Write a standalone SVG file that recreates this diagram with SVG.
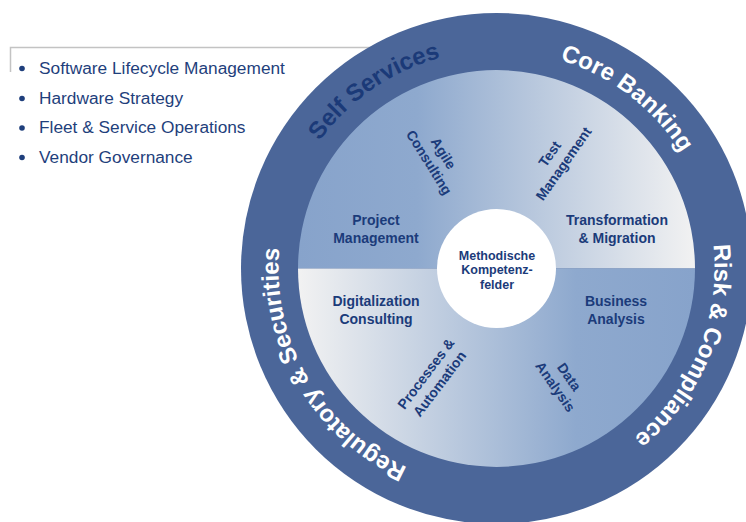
<svg xmlns="http://www.w3.org/2000/svg" width="746" height="522" viewBox="0 0 746 522">
<style>
.list{font-family:"Liberation Sans",Arial,sans-serif;font-size:17.3px;fill:#1f3f7c}
.ring{font-family:"Liberation Sans",Arial,sans-serif;font-size:24px;font-weight:bold;fill:#ffffff}
.lbl{font-family:"Liberation Sans",Arial,sans-serif;font-size:14px;font-weight:bold;fill:#1b3b7a;text-anchor:middle}
.ctr{font-family:"Liberation Sans",Arial,sans-serif;font-size:12.5px;font-weight:bold;fill:#1b3b7a;text-anchor:middle}
.dot{fill:#1f3f7c}
</style>
<defs>
<linearGradient id="gUp" x1="298" y1="0" x2="695" y2="0" gradientUnits="userSpaceOnUse">
<stop offset="0" stop-color="#87a3cb"/>
<stop offset="0.3" stop-color="#8ea9ce"/>
<stop offset="1" stop-color="#f2f2f2"/>
</linearGradient>
<linearGradient id="gDn" x1="298" y1="0" x2="695" y2="0" gradientUnits="userSpaceOnUse">
<stop offset="0" stop-color="#f2f2f2"/>
<stop offset="0.7" stop-color="#8ea9ce"/>
<stop offset="1" stop-color="#87a3cb"/>
</linearGradient>
<path id="ringPath" d="M 496.5 486.5 A 218 218 0 1 1 496.5 50.5 A 218 218 0 1 1 496.5 486.5"/>
</defs>
<g id="bullet-list">
<path d="M10.5 72 V47.5 H380" fill="none" stroke="#c3c3c3" stroke-width="1.5"/>
<circle class="dot" cx="22" cy="68.5" r="2.8"/>
<circle class="dot" cx="22" cy="98.5" r="2.8"/>
<circle class="dot" cx="22" cy="128" r="2.8"/>
<circle class="dot" cx="22" cy="157.5" r="2.8"/>
<text class="list" x="39" y="73.5">Software Lifecycle Management</text>
<text class="list" x="39" y="103.5">Hardware Strategy</text>
<text class="list" x="39" y="133">Fleet &amp; Service Operations</text>
<text class="list" x="39" y="162.5">Vendor Governance</text>
</g>
<g id="outer-ring">
<circle cx="496.5" cy="268.5" r="255.5" fill="#4b6699"/>
<text class="ring" style="fill:#1b3a78"><textPath href="#ringPath" startOffset="40.4%" text-anchor="middle">Self Services</textPath></text>
<text class="ring"><textPath href="#ringPath" startOffset="60.4%" text-anchor="middle">Core Banking</textPath></text>
<text class="ring"><textPath href="#ringPath" startOffset="81.2%" text-anchor="middle">Risk &amp; Compliance</textPath></text>
<text class="ring"><textPath href="#ringPath" startOffset="16.6%" text-anchor="middle">Regulatory &amp; Securities</textPath></text>
</g>
<g id="inner-disc">
<path d="M 298 268.5 A 198.5 198.5 0 0 1 695 268.5 Z" fill="url(#gUp)"/>
<path d="M 298 268.5 A 198.5 198.5 0 0 0 695 268.5 Z" fill="url(#gDn)"/>
</g>
<g id="project-management"><text class="lbl"><tspan x="376" y="225">Project</tspan><tspan x="376" y="243">Management</tspan></text></g>
<g id="agile-consulting"><text class="lbl" transform="translate(436,158) rotate(58)"><tspan x="0" y="-4">Agile</tspan><tspan x="0" y="13">Consulting</tspan></text></g>
<g id="test-management"><text class="lbl" transform="translate(557,159) rotate(-55)"><tspan x="0" y="-4">Test</tspan><tspan x="0" y="13">Management</tspan></text></g>
<g id="transformation-migration"><text class="lbl"><tspan x="617" y="225">Transformation</tspan><tspan x="617" y="243">&amp; Migration</tspan></text></g>
<g id="digitalization-consulting"><text class="lbl"><tspan x="376" y="306">Digitalization</tspan><tspan x="376" y="324">Consulting</tspan></text></g>
<g id="business-analysis"><text class="lbl"><tspan x="616" y="306">Business</tspan><tspan x="616" y="324">Analysis</tspan></text></g>
<g id="processes-automation"><text class="lbl" transform="translate(433,379) rotate(-53)"><tspan x="0" y="-4">Processes &amp;</tspan><tspan x="0" y="13">Automation</tspan></text></g>
<g id="data-analysis"><text class="lbl" transform="translate(562,382) rotate(55)"><tspan x="0" y="-4">Data</tspan><tspan x="0" y="13">Analysis</tspan></text></g>
<g id="center">
<circle cx="496.5" cy="268.5" r="59.5" fill="#ffffff"/>
<text class="ctr"><tspan x="497" y="259.5">Methodische</tspan><tspan x="497" y="274">Kompetenz-</tspan><tspan x="497" y="288.5">felder</tspan></text>
</g>
</svg>
